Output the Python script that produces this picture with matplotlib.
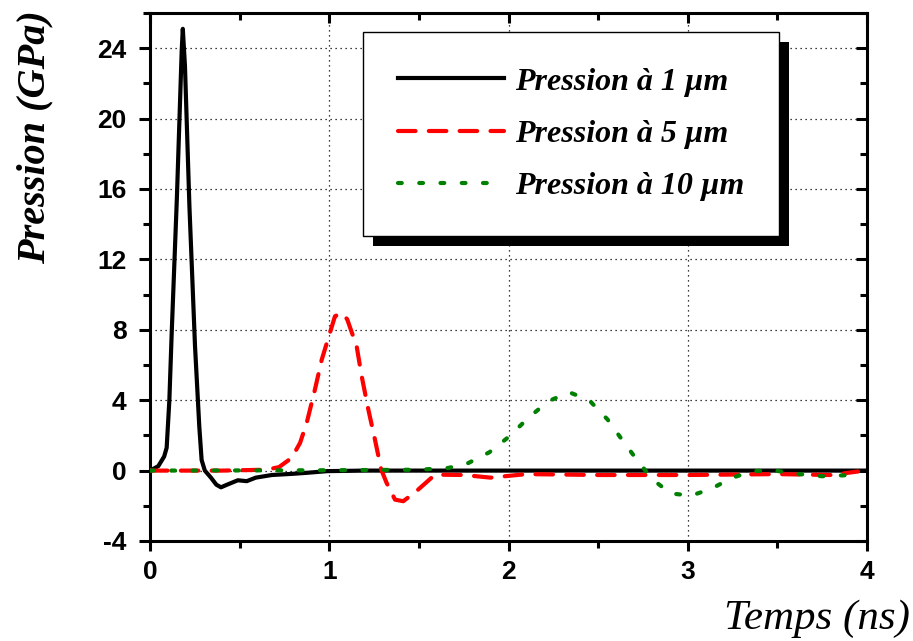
import matplotlib
matplotlib.use("Agg")
import matplotlib.pyplot as plt
from matplotlib.patches import Rectangle
from matplotlib.ticker import MultipleLocator

plt.rcParams["axes.unicode_minus"] = False
plt.rcParams["font.family"] = ["Liberation Sans", "DejaVu Sans"]
plt.rcParams["font.weight"] = "bold"
plt.rcParams["xtick.labelsize"] = 19
plt.rcParams["ytick.labelsize"] = 19

# ---- data ----
x_1um = [0, 0.046, 0.079, 0.093, 0.108, 0.121, 0.15, 0.177, 0.183, 0.195, 0.22, 0.251, 0.275, 0.288,
         0.306, 0.34, 0.37, 0.396, 0.43, 0.49, 0.54, 0.59, 0.68, 0.8, 0.87, 0.99, 1.2, 2.0, 3.0, 4.0]
y_1um = [0, 0.25, 0.8, 1.3, 4.0, 7.8, 15.5, 23.9, 25.1, 23.0, 15.0, 7.1, 2.5, 0.6,
         0, -0.4, -0.8, -0.95, -0.8, -0.55, -0.6, -0.4, -0.25, -0.18, -0.13, -0.03, 0, 0, 0, 0]

x_5um = [0, 0.4, 0.65, 0.72, 0.79, 0.837, 0.874, 0.92, 0.958, 0.995, 1.032, 1.069, 1.1, 1.153, 1.181,
         1.218, 1.255, 1.29, 1.32, 1.367, 1.413, 1.486, 1.59, 1.75, 1.9, 2.1, 2.5, 3.0, 3.5, 3.8, 3.95]
y_5um = [0, 0, 0.05, 0.2, 0.72, 1.57, 2.7, 4.6, 6.3, 7.54, 8.77, 8.96, 8.6, 7.06, 5.36,
         3.47, 1.76, 0.06, -0.7, -1.65, -1.74, -1.17, -0.23, -0.25, -0.4, -0.2, -0.25, -0.25, -0.2, -0.25, -0.05]

x_10um = [0, 1.0, 1.5, 1.664, 1.776, 1.893, 2.003, 2.11, 2.222, 2.339, 2.45, 2.553, 2.633, 2.715,
          2.803, 2.905, 3.02, 3.134, 3.247, 3.36, 3.477, 3.59, 3.75, 3.868, 3.95]
y_10um = [0, 0.02, 0.05, 0.15, 0.43, 1.04, 1.93, 2.99, 3.94, 4.45, 4.0, 2.9, 1.76, 0.63,
          -0.5, -1.3, -1.42, -1.02, -0.41, -0.04, 0.02, -0.17, -0.32, -0.27, -0.2]

labels = ["Pression à 1 µm", "Pression à 5 µm", "Pression à 10 µm"]
x_ticks = [0, 1, 2, 3, 4]
y_ticks = [-4, 0, 4, 8, 12, 16, 20, 24]

label_font = ["Liberation Serif", "DejaVu Serif"]

fig = plt.figure(figsize=(9.13, 6.41), dpi=100)
ax = fig.add_axes([150 / 913, 1 - 541 / 641, 717 / 913, 528 / 641])

ax.plot(x_1um, y_1um, color="black", lw=3.0, label=labels[0], zorder=3, solid_joinstyle="round")
ax.plot(x_5um, y_5um, color="#ff0000", lw=3.0, dashes=(4.2, 3.2), dash_capstyle="round",
        label=labels[1], zorder=4)
ax.plot(x_10um, y_10um, color="#008000", lw=3.0, dashes=(0.9, 4.2), dash_capstyle="round",
        label=labels[2], zorder=5)

ax.set_xlim(0, 4)
ax.set_ylim(-4, 26)
ax.set_xticks(x_ticks)
ax.set_yticks(y_ticks)
ax.xaxis.set_minor_locator(MultipleLocator(0.5))
ax.yaxis.set_minor_locator(MultipleLocator(2))
ax.grid(True, which="major", color="black", linestyle=(0, (1, 3)), linewidth=0.9)

for s in ax.spines.values():
    s.set_linewidth(2.2)

ax.tick_params(axis="y", which="major", direction="out", length=8, width=2.2, pad=9)
ax.tick_params(axis="x", which="major", direction="out", length=7, width=2.2, pad=7)
ax.tick_params(axis="both", which="minor", direction="out", length=5, width=2.2)
ax.tick_params(which="both", top=True, right=True)

# top/right ticks point inward
for t in ax.xaxis.get_major_ticks() + ax.xaxis.get_minor_ticks():
    t.tick2line.set_marker(3)
for t in ax.yaxis.get_major_ticks() + ax.yaxis.get_minor_ticks():
    t.tick2line.set_marker(0)

leg = ax.legend(loc="upper left", bbox_to_anchor=(0.297, 0.964), frameon=True, fancybox=False,
                edgecolor="black", framealpha=1, handlelength=3.3, handletextpad=0.35,
                labelspacing=0.72, borderpad=1.1, borderaxespad=0,
                prop={"family": label_font, "style": "italic", "weight": "bold", "size": 23})
leg.get_frame().set_linewidth(1.0)
leg.set_zorder(10)

fig.text(35 / 913, 1 - 10 / 641, "Pression (GPa)", rotation=90, ha="center", va="top",
         family=label_font, style="italic", weight="bold", fontsize=29)
fig.text(910 / 913, 1 - 638 / 641, "Temps (ns)", ha="right", va="bottom",
         family=label_font, style="italic", weight="normal", fontsize=31)

# shadow behind legend
fig.canvas.draw()
bb = leg.get_window_extent().transformed(fig.transFigure.inverted())
dx, dy = 10 / 913, 10 / 641
shadow = Rectangle((bb.x0 + dx, bb.y0 - dy), bb.width, bb.height, transform=fig.transFigure,
                   facecolor="black", edgecolor="none", zorder=9)
ax.add_artist(shadow)

fig.savefig("out.png", dpi=100)
